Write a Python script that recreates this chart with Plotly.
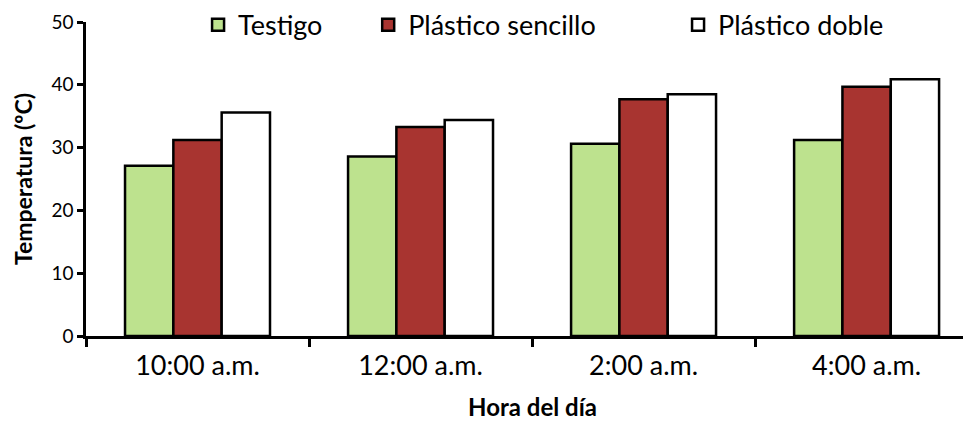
import plotly.graph_objects as go

categories = ["10:00 a.m.", "12:00 a.m.", "2:00 a.m.", "4:00 a.m."]
testigo = [27.1, 28.6, 30.6, 31.2]
sencillo = [31.2, 33.3, 37.7, 39.7]
doble = [35.6, 34.4, 38.5, 40.9]
y_ticks = [0, 10, 20, 30, 40, 50]

FONT = "Lato"
line = dict(color="black", width=2.5)

fig = go.Figure()
fig.add_bar(x=categories, y=testigo, name="Testigo",
            marker=dict(color="#bde28e", line=line), legend="legend")
fig.add_bar(x=categories, y=sencillo, name="Plástico sencillo",
            marker=dict(color="#a83430", line=line), legend="legend2")
fig.add_bar(x=categories, y=doble, name="Plástico doble",
            marker=dict(color="#ffffff", line=line), legend="legend3")

leg = dict(orientation="h", yanchor="middle", y=0.99, xanchor="left",
           font=dict(family=FONT, size=27, color="black"),
           bgcolor="rgba(0,0,0,0)", itemwidth=30)

# page has an 8px body margin, so the figure is offset by 8px
fig.update_layout(
    width=971, height=423,
    margin=dict(l=78, r=0, t=14, b=95, autoexpand=False),
    showlegend=True,
    plot_bgcolor="white", paper_bgcolor="white",
    barmode="group", bargap=0.35, bargroupgap=0,
    font=dict(family=FONT, color="black"),
    legend=dict(leg, x=0.1255),
    legend2=dict(leg, x=0.316),
    legend3=dict(leg, x=0.663),
    xaxis=dict(
        range=[-0.5, 3.504], showline=True, linecolor="black", linewidth=2.5,
        ticks="outside", tickson="boundaries", ticklen=8, tickwidth=2.5, tickcolor="black",
        tickfont=dict(family=FONT, size=27), ticklabelstandoff=4,
        title=dict(text="<b>Hora del día</b>", font=dict(family=FONT, size=24), standoff=20),
        showgrid=False, zeroline=False, automargin=False,
    ),
    yaxis=dict(
        range=[0, 50], tickvals=y_ticks, showline=True, linecolor="black", linewidth=2.5,
        ticks="outside", ticklen=6, tickwidth=2.5, tickcolor="black",
        tickfont=dict(family=FONT, size=19),
        title=dict(text="<b>Temperatura (ºC)</b>", font=dict(family=FONT, size=23), standoff=13),
        showgrid=False, zeroline=False, automargin=False,
    ),
)

fig.write_html("out.html")
